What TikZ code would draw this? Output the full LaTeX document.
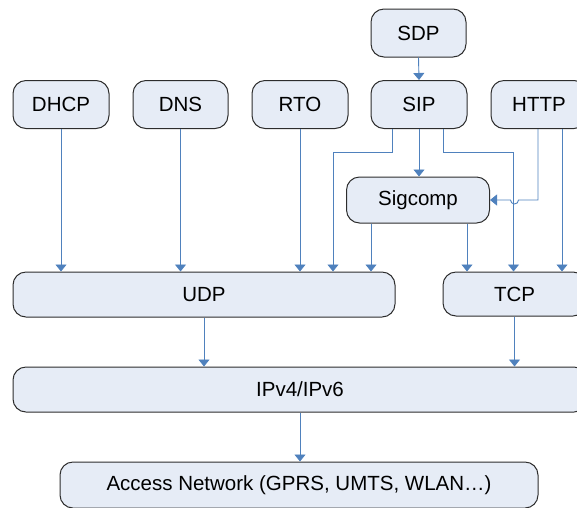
\documentclass[tikz,border=0pt]{standalone}
\usepackage{fontspec}
\setmainfont{Liberation Sans}
\usetikzlibrary{arrows.meta}
\definecolor{boxfill}{RGB}{230,236,246}
\definecolor{boxline}{RGB}{45,45,45}
\definecolor{arr}{RGB}{79,129,189}
\begin{document}
\begin{tikzpicture}[x=1pt,y=-1pt,
  layer/.style={draw=boxline,line width=1pt,fill=boxfill,rounded corners=13pt,
    minimum height=48pt,inner sep=0pt,font=\fontsize{20.5}{24}\selectfont},
  conn/.style={draw=arr,line width=0.9pt,-{Triangle[width=11pt,length=7pt]}}]
\useasboundingbox (0,0) rectangle (577,507);
\begin{scope}
\clip (0,0) rectangle (577,507);
\node[layer,minimum width=95pt] (sdp) at (418.5,33) {SDP};
\node[layer,minimum width=96pt] (dhcp) at (61,104.5) {DHCP};
\node[layer,minimum width=95pt] (dns) at (180.5,104.5) {DNS};
\node[layer,minimum width=96pt] (rto) at (300,104.5) {RTO};
\node[layer,minimum width=96pt] (sip) at (419,104.5) {SIP};
\node[layer,minimum width=96pt] (http) at (539,104.5) {HTTP};
\node[layer,minimum width=143pt,minimum height=46pt] (sig) at (418,200) {Sigcomp};
\node[layer,minimum width=382pt,minimum height=45pt] (udp) at (204,294.5) {UDP};
\node[layer,minimum width=143pt,minimum height=44pt] (tcp) at (514.5,294) {TCP};
\node[layer,minimum width=574pt,minimum height=45pt] (ip) at (300,389.5) {IPv4/IPv6};
\node[layer,minimum width=478pt,minimum height=46pt] (acc) at (299,485) {Access Network (GPRS, UMTS, WLAN…)};

\draw[conn] (sdp.south) -- (sip.north);
\draw[conn] (dhcp.south) -- (dhcp.south |- udp.north);
\draw[conn] (dns.south) -- (dns.south |- udp.north);
\draw[conn] (rto.south) -- (rto.south |- udp.north);
\draw[conn] ([xshift=-27pt]sip.south) -- ++(0,23) -| ([xshift=129pt]udp.north);
\draw[conn] (sip.south) -- (sig.north -| sip.south);
\draw[conn] ([xshift=24pt]sip.south) -- ++(0,23) -| ([xshift=-1pt]tcp.north);
\draw[conn] ([xshift=-1pt]http.south) |- ([xshift=4pt]tcp.north |- sig.east)
  arc[start angle=0,end angle=-180,radius=4pt] -- (sig.east);
\draw[conn] ([xshift=23pt]http.south) -- ([xshift=47.5pt]tcp.north);
\draw[conn] ([xshift=-47pt]sig.south) -- ([xshift=-47pt]sig.south |- udp.north);
\draw[conn] ([xshift=49pt]sig.south) -- ([xshift=-47.5pt]tcp.north);
\draw[conn] (udp.south) -- (udp.south |- ip.north);
\draw[conn] (tcp.south) -- (tcp.south |- ip.north);
\draw[conn] (ip.south) -- (ip.south |- acc.north);
\end{scope}
\end{tikzpicture}
\end{document}
